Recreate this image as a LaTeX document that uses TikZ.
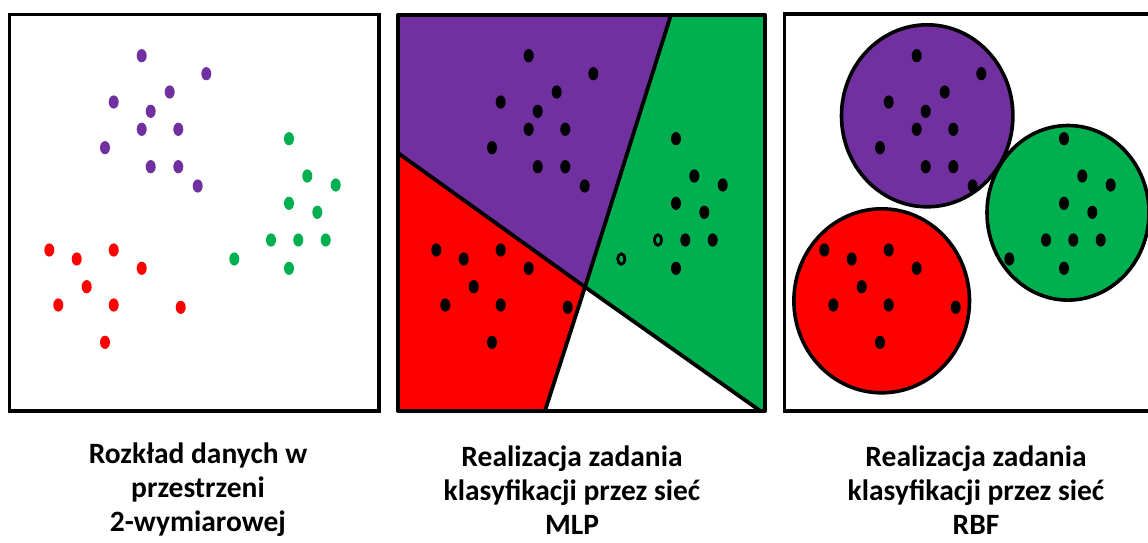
\documentclass[tikz,border=0pt]{standalone}
\usepackage{fontspec}
\setmainfont{Carlito}
\definecolor{cpurple}{HTML}{7030A0}
\definecolor{cgreen}{HTML}{00B050}
\definecolor{cred}{HTML}{FF0000}
\tikzset{
  frame/.style={draw=black, line width=3.3pt},
  border/.style={draw=black, line width=3.8pt, line join=round},
  lbl/.style={font=\fontsize{29.5}{33.7}\selectfont\bfseries, align=center, inner sep=0pt, text depth=0pt},
}
\def\purpledots{141.7/55.7, 206.3/73.7, 169.7/92, 113.7/102, 150.7/111.3, 141.7/129.3, 178.3/129.3, 105/147.7, 150.7/166.7, 178.3/166.7, 197.7/186}
\def\greendots{289/138.7, 307.3/176, 335.7/185, 289/203.3, 317.3/212.3, 298.3/240, 325.7/240, 289/268.3}
\def\greenextra{271/240, 234.3/259}
\def\reddots{49.3/250, 76.7/259, 113.7/250, 141.7/268.3, 86.7/286.7, 58.3/305, 113.7/305, 180.7/307.3, 105/342.3}
\newcommand{\dotat}[3]{\fill[#1] (#2,#3) ellipse [x radius=5pt, y radius=6.6pt];}
\begin{document}
\begin{tikzpicture}[x=1pt,y=-1pt]
\useasboundingbox (0,0) rectangle (1148,543);
\begin{scope}
\clip (0,0) rectangle (1148,543);
% ---------- Panel 1 ----------
\foreach \px/\py in \purpledots {\dotat{cpurple}{\px}{\py}}
\foreach \px/\py in \greendots {\dotat{cgreen}{\px}{\py}}
\foreach \px/\py in \greenextra {\dotat{cgreen}{\px}{\py}}
\foreach \px/\py in \reddots {\dotat{cred}{\px}{\py}}
\draw[frame] (9.7,14.3) rectangle (379,411);
% ---------- Panel 2 ----------
\coordinate (TL) at (398,14.7);
\coordinate (TR) at (765,14.7);
\coordinate (BR) at (765,410.7);
\coordinate (BL) at (398,410.7);
\coordinate (A) at (671,14.7);
\coordinate (L) at (398,153);
\coordinate (J) at (585,287);
\coordinate (B) at (545,410.7);
\coordinate (C) at (760,410.7);
\fill[cpurple] (TL) -- (A) -- (J) -- (L) -- cycle;
\fill[cgreen] (A) -- (TR) -- (BR) -- (C) -- (J) -- cycle;
\fill[cred] (L) -- (J) -- (B) -- (BL) -- cycle;
\foreach \px/\py in \purpledots {\dotat{black}{\px+387}{\py}}
\foreach \px/\py in \greendots {\dotat{black}{\px+387}{\py}}
\foreach \px/\py in \reddots {\dotat{black}{\px+387}{\py}}
\foreach \px/\py in \greenextra {\draw[black, line width=2.8pt, fill=cgreen] (\px+387,\py) ellipse [x radius=3.6pt, y radius=5.2pt];}
\draw[border] (L) -- (J) -- (C);
\draw[border] (A) -- (J) -- (B);
\draw[border] (TL) rectangle (BR);
% ---------- Panel 3 ----------
\draw[black, line width=3.6pt, fill=cpurple] (927.2,115.8) ellipse [x radius=85.7pt, y radius=91pt];
\draw[black, line width=3.6pt, fill=cred] (881.7,300.8) ellipse [x radius=87.8pt, y radius=92pt];
\draw[black, line width=3.6pt, fill=cgreen] (1068,212.8) ellipse [x radius=81pt, y radius=87.3pt];
\foreach \px/\py in \purpledots {\dotat{black}{\px+775}{\py}}
\foreach \px/\py in \greendots {\dotat{black}{\px+775}{\py}}
\foreach \px/\py in \greenextra {\dotat{black}{\px+775}{\py}}
\foreach \px/\py in \reddots {\dotat{black}{\px+775}{\py}}
\draw[frame] (784.7,14) rectangle (1160,411);
\end{scope}
% ---------- Labels ----------
\node[lbl, anchor=base] (t1) at (198,531) {Rozkład danych w\\przestrzeni\\2-wymiarowej};
\node[lbl, anchor=base] (t2) at (572,534) {Realizacja zadania\\klasyfikacji przez sieć\\MLP};
\node[lbl, anchor=base] (t3) at (976,534) {Realizacja zadania\\klasyfikacji przez sieć\\RBF};
\end{tikzpicture}
\end{document}
